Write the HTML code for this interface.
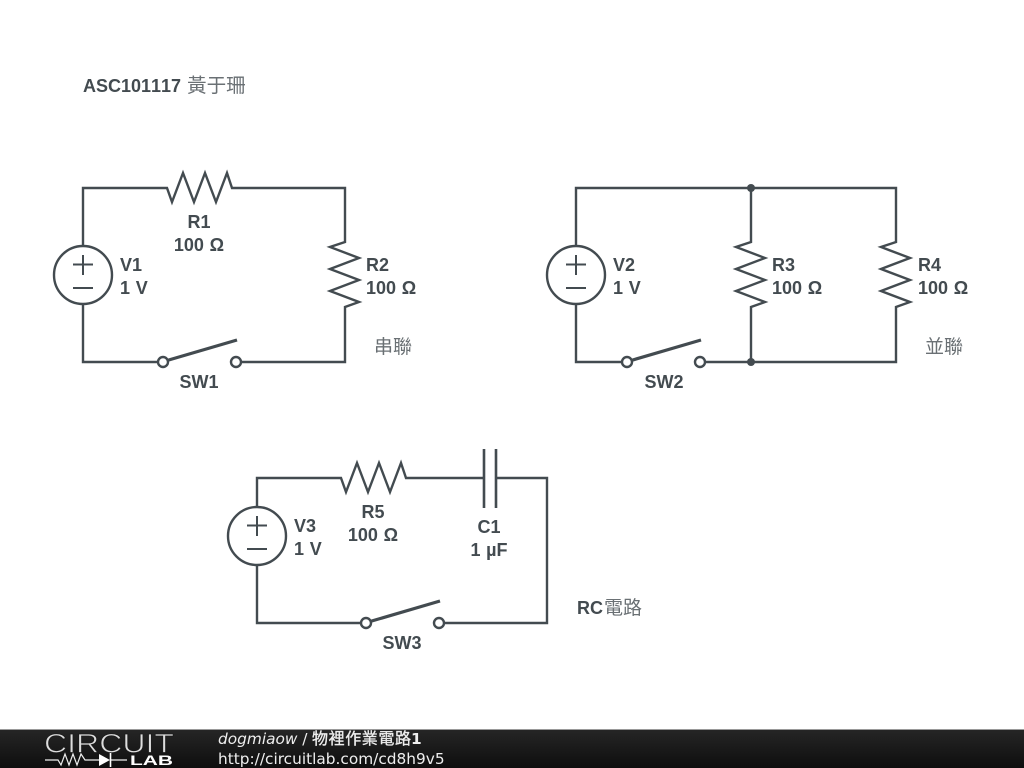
<!DOCTYPE html>
<html><head><meta charset="utf-8"><style>
html,body{margin:0;padding:0;background:#fff;width:1024px;height:768px;overflow:hidden}
svg{display:block;position:absolute;left:0;top:0}
.t{font-family:"Liberation Sans","Noto Sans CJK TC",sans-serif;font-weight:700;font-size:18px;fill:#434b50;font-kerning:none;word-spacing:.7px}
.c{font-family:"Noto Sans CJK TC","Liberation Sans",sans-serif;font-weight:400;font-size:19px;fill:#6a7074}
.f{font-family:"DejaVu Sans","Noto Sans CJK TC",sans-serif;font-size:15.35px;fill:#eee}
.z{font-family:"WenQuanYi Zen Hei","Noto Sans CJK TC",sans-serif;font-size:16px;fill:#eee;stroke:#eee;stroke-width:.35px;letter-spacing:.6px}
</style></head><body>
<svg width="1024" height="768" viewBox="0 0 1024 768" xmlns="http://www.w3.org/2000/svg">
<defs><linearGradient id="g" x1="0" y1="0" x2="0" y2="1"><stop offset="0" stop-color="#262626"/><stop offset="1" stop-color="#0e0e0e"/></linearGradient></defs>
<g fill="none" stroke="#434b50" stroke-width="2.4" stroke-linejoin="miter">
<!-- circuit 1 -->
<path d="M83 246V188H167L172 202L183 173L194 202L205 173L216 202L227 173L232 188H345V242L330 247L359 258L330 269L359 280L330 291L359 302L345 307V362H241"/>
<path d="M83 304V362H158"/>
<circle cx="83" cy="275" r="29"/><path d="M73 264.5H93M83 255V275M73 288H93" stroke-width="2"/>
<circle cx="163" cy="362" r="5"/><circle cx="236" cy="362" r="5"/>
<path d="M167 360.5L237 340" stroke-width="3.2"/>
<!-- circuit 2 -->
<path d="M576 246V188H896V242L881 247L910 258L881 269L910 280L881 291L910 302L896 307V362H705"/>
<path d="M751 188V242L736 247L765 258L736 269L765 280L736 291L765 302L751 307V362"/>
<path d="M576 304V362H622"/>
<circle cx="576" cy="275" r="29"/><path d="M566 264.5H586M576 255V275M566 288H586" stroke-width="2"/>
<circle cx="627" cy="362" r="5"/><circle cx="700" cy="362" r="5"/>
<path d="M631 360.5L701 340" stroke-width="3.2"/>
<!-- circuit 3 -->
<path d="M257 507V478H341L346 492L357 463L368 492L379 463L390 492L401 463L406 478H484M496 478H547V623H444"/>
<path d="M257 565V623H361"/>
<circle cx="257" cy="536" r="29"/><path d="M247 525.5H267M257 516V536M247 549H267" stroke-width="2"/>
<path d="M484 449V508M496 449V508" stroke-width="2.6"/>
<circle cx="366" cy="623" r="5"/><circle cx="439" cy="623" r="5"/>
<path d="M370 621.5L440 601" stroke-width="3.2"/>
</g>
<circle cx="751" cy="188" r="4" fill="#434b50"/><circle cx="751" cy="362" r="4" fill="#434b50"/>
<text class="t" x="83" y="92">ASC101117</text><text class="c" x="187" y="92" style="font-size:19.6px">黃于珊</text>
<text class="t" x="199" y="228" text-anchor="middle">R1</text><text class="t" x="199" y="251" text-anchor="middle">100 Ω</text>
<text class="t" x="120" y="271">V1</text><text class="t" x="120" y="294">1 V</text>
<text class="t" x="366" y="271">R2</text><text class="t" x="366" y="294">100 Ω</text>
<text class="t" x="199" y="388" text-anchor="middle">SW1</text>
<text class="c" x="374" y="353">串聯</text>
<text class="t" x="613" y="271">V2</text><text class="t" x="613" y="294">1 V</text>
<text class="t" x="772" y="271">R3</text><text class="t" x="772" y="294">100 Ω</text>
<text class="t" x="918" y="271">R4</text><text class="t" x="918" y="294">100 Ω</text>
<text class="t" x="664" y="388" text-anchor="middle">SW2</text>
<text class="c" x="925" y="353">並聯</text>
<text class="t" x="294" y="532">V3</text><text class="t" x="294" y="555">1 V</text>
<text class="t" x="373" y="518" text-anchor="middle">R5</text><text class="t" x="373" y="541" text-anchor="middle">100 Ω</text>
<text class="t" x="489" y="533" text-anchor="middle">C1</text><text class="t" x="489" y="556" text-anchor="middle">1 µF</text>
<text class="t" x="402" y="649" text-anchor="middle">SW3</text>
<text class="t" x="577" y="614">RC</text><text class="c" x="604" y="614">電路</text>
<!-- footer -->
<rect x="0" y="729" width="1024" height="39" fill="url(#g)"/>
<rect x="0" y="729" width="1024" height="1" fill="#999"/>
<text x="44" y="752.5" font-family="Liberation Sans,sans-serif" font-size="27" fill="#ddd" stroke="#1c1c1c" stroke-width=".8" textLength="130" lengthAdjust="spacingAndGlyphs">CIRCUIT</text>
<path d="M45 760H58L61 765L65 754L69 765L73 754L77 765L81 754L85 760H99M110 760H127" fill="none" stroke="#eee" stroke-width="1.2"/>
<path d="M99 754L110 760L99 766Z" fill="#fff"/><path d="M110.5 753V767" stroke="#fff" stroke-width="1.6"/>
<text x="130" y="765" font-family="Liberation Sans,sans-serif" font-weight="700" font-size="14" fill="#fff" textLength="43" lengthAdjust="spacingAndGlyphs">LAB</text>
<text class="f" x="218" y="744"><tspan font-style="italic">dogmiaow</tspan> /</text>
<text class="z" x="312" y="744">物裡作業電路</text><text class="f" x="411" y="744" font-weight="700">1</text>
<text class="f" x="218" y="764">http://circuitlab.com/cd8h9v5</text>
</svg>
</body></html>
